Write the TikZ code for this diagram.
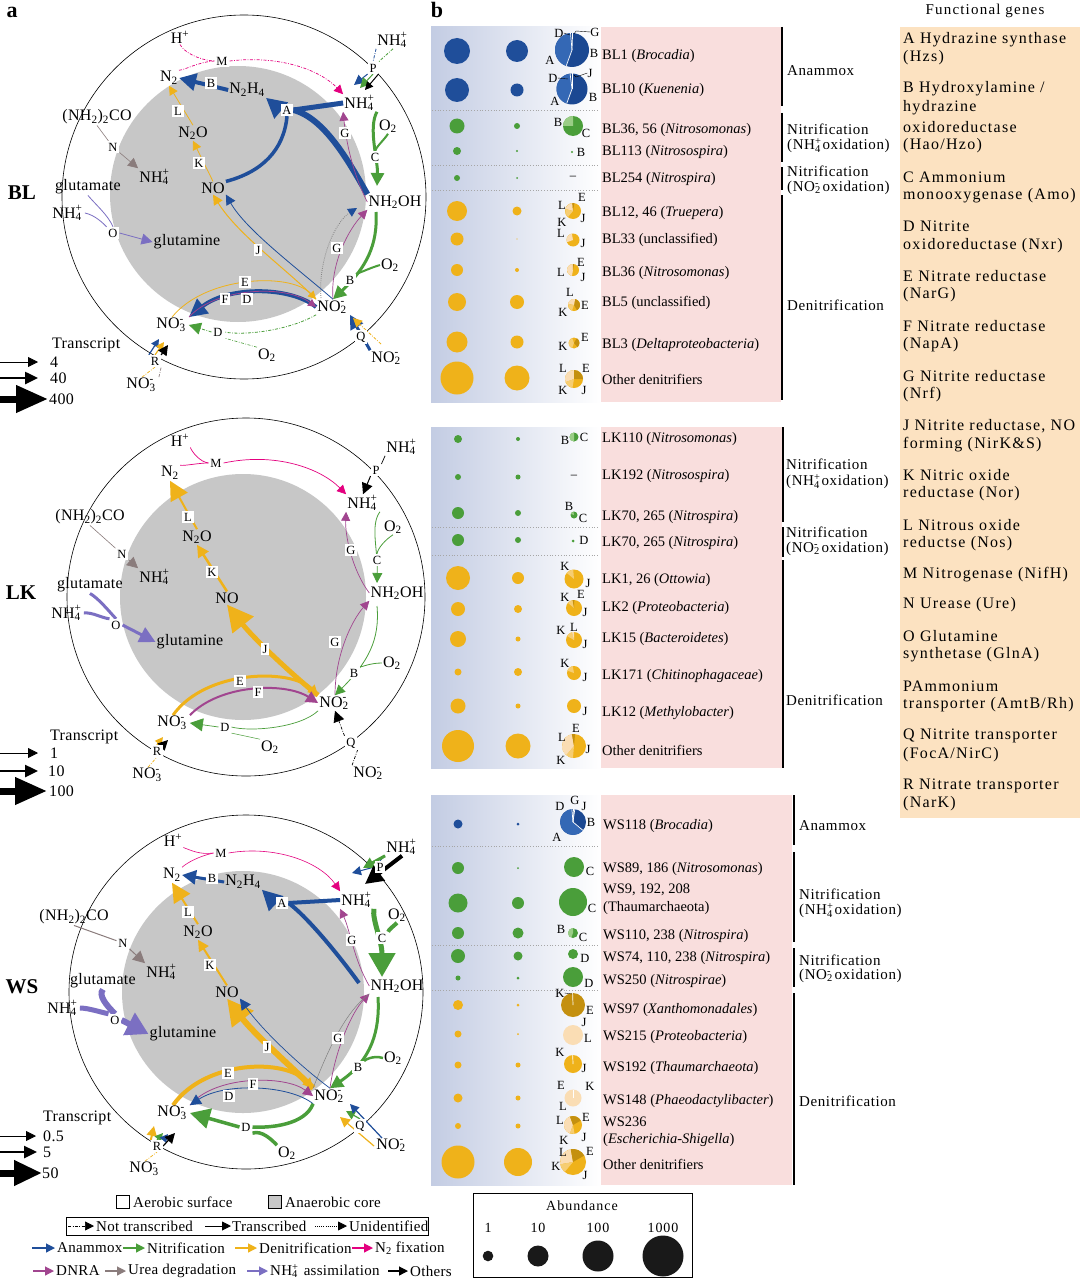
\documentclass[tikz,border=0pt]{standalone}
\usepackage{fontspec}
\setmainfont{Liberation Serif}
\newfontfamily\fontA[LetterSpace=2]{Liberation Serif}
\newfontfamily\fontC[LetterSpace=4]{Liberation Serif}
\newfontfamily\fontG[LetterSpace=8]{Liberation Serif}
\newfontfamily\fontAb[LetterSpace=7]{Liberation Serif}
\usetikzlibrary{arrows.meta}
\pgfdeclarelayer{bg}
\pgfsetlayers{bg,main}
\definecolor{cAna}{HTML}{1F4E9A}
\definecolor{cAnaD}{HTML}{1B4892}
\definecolor{cAnaL}{HTML}{3468B5}
\definecolor{cNit}{HTML}{4A9E3A}
\definecolor{cNitL}{HTML}{9ACD86}
\definecolor{cDen}{HTML}{EFB21A}
\definecolor{cE}{HTML}{C4900F}
\definecolor{cK}{HTML}{F6CD72}
\definecolor{cL}{HTML}{FADDB4}
\definecolor{cFix}{HTML}{E4007F}
\definecolor{cDnra}{HTML}{A1458F}
\definecolor{cUrea}{HTML}{8A7C7C}
\definecolor{cAsm}{HTML}{7B6FC2}
\definecolor{cCore}{HTML}{C7C7C7}
\definecolor{cPink}{HTML}{F9DEDD}
\definecolor{cOrange}{HTML}{FCE2C1}
\definecolor{cGrad}{HTML}{C3CCE3}
\newcommand\fsz[1]{\fontsize{#1}{#1}\selectfont}
\newcommand\ssp[2]{\makebox[0pt][l]{\textsuperscript{#2}}\textsubscript{#1}\kern0.12em}
\newcommand\ammo{NH\ssp{4}{+}}
\newcommand\nitri{NO\ssp{2}{-}}
\newcommand\nitra{NO\ssp{3}{-}}
\newcommand\oxy{O\textsubscript{2}}
\newcommand\pieseg[6]{\fill[#6] (#1,#2) -- ++({-(#4)}:#3) arc[start angle={-(#4)}, end angle={-(#5)}, radius=#3] -- cycle;}
\newcommand\pieline[4]{\draw[white, line width=0.7] (#1,#2) -- ++({-(#4)}:#3);}
\tikzset{
  chem/.style={font=\fontA\fsz{16}, inner sep=1pt},
  lb/.style={fill=white, inner sep=1.8pt, font=\fontA\fsz{12.5}},
  tx/.style={font=\fsz{14.5}, inner sep=0pt, anchor=west},
  cat/.style={font=\fontC\fsz{15}, inner sep=0pt, anchor=west},
  gene/.style={font=\fontG\fsz{16}, inner sep=0pt, anchor=west},
  pl/.style={font=\fsz{12.5}, inner sep=0pt},
  lg/.style={font=\fontA\fsz{15}, inner sep=0pt, anchor=west},
  big/.style={font=\bfseries\fsz{22}, inner sep=0pt},
  ana/.style={draw=cAna}, nit/.style={draw=cNit}, den/.style={draw=cDen},
  fix/.style={draw=cFix}, dnra/.style={draw=cDnra}, urea/.style={draw=cUrea},
  asm/.style={draw=cAsm}, oth/.style={draw=black},
  nt/.style={dash pattern=on 3pt off 1.5pt on 0.8pt off 1.5pt},
  ui/.style={dash pattern=on 0.8pt off 1.3pt},
  hd/.style={-{Triangle[length=#1pt,width=#1pt]}},
  hdw/.style 2 args={-{Triangle[length=#1pt,width=#2pt]}},
  sepl/.style={draw=gray!70, dotted, line width=0.8},
  brk/.style={draw=black, line width=1.4},
}
\begin{document}
\begin{tikzpicture}[x=1pt,y=-1pt]
\useasboundingbox (0,0) rectangle (1080,1279);
\begin{pgfonlayer}{bg}
\fill[white] (0,0) rectangle (1080,1279);
\end{pgfonlayer}

% ================= panel labels
\node[big] (labA) at (12,12) {a};
\node[big] (labB) at (437,10) {b};
\node[big,font=\bfseries\fsz{21}] (labBL) at (22,193) {BL};
\node[big,font=\bfseries\fsz{21}] (labLK) at (21,593) {LK};
\node[big,font=\bfseries\fsz{21}] (labWS) at (22,987) {WS};

% ================= BL nodes
\node[chem] (blHp) at (180,37) {H\textsuperscript{+}};
\node[lb] (blM) at (222,61) {M};
\node[chem] (blNH4o) at (393,40) {\ammo};
\node[lb] (blP) at (373,68) {P};
\node[chem] (blN2) at (169,78) {N\textsubscript{2}};
\node[lb] (blB) at (211,83) {B};
\node[chem] (blN2H4) at (247,90) {N\textsubscript{2}H\textsubscript{4}};
\node[chem] (blNH4i) at (360,103) {\ammo};
\node[lb] (blA) at (287,110) {A};
\node[chem] (blUrea) at (97,117) {(NH\textsubscript{2})\textsubscript{2}CO};
\node[lb] (blL) at (178,111) {L};
\node[chem] (blO2a) at (388,126) {\oxy};
\node[chem] (blN2O) at (193,133) {N\textsubscript{2}O};
\node[lb] (blG1) at (345,133) {G};
\node[lb] (blN) at (113,147) {N};
\node[lb] (blC) at (375,157) {C};
\node[lb] (blK) at (199,163) {K};
\node[chem] (blNH4u) at (155,177) {\ammo};
\node[chem] (blNO) at (213,188) {NO};
\node[chem] (blGlu) at (88,187) {glutamate};
\node[chem] (blNH2OH) at (395,202) {NH\textsubscript{2}OH};
\node[chem] (blNH4l) at (68,213) {\ammo};
\node[lb] (blO) at (113,233) {O};
\node[chem] (blGln) at (187,242) {glutamine};
\node[lb] (blJ) at (258,250) {J};
\node[lb] (blG2) at (337,248) {G};
\node[chem] (blO2b) at (390,265) {\oxy};
\node[lb] (blB2) at (350,280) {B};
\node[lb] (blE) at (245,282) {E};
\node[lb] (blF) at (225,299) {F};
\node[lb] (blD) at (247,299) {D};
\node[chem] (blNO2) at (333,307) {\nitri};
\node[chem] (blNO3) at (172,325) {\nitra};
\node[lb] (blD2) at (218,332) {D};
\node[lb] (blQ) at (361,337) {Q};
\node[chem] (blO2c) at (267,355) {\oxy};
\node[lb] (blR) at (155,361) {R};
\node[chem] (blNO2o) at (387,358) {\nitri};
\node[chem] (blNO3o) at (142,385) {\nitra};
\node[chem, anchor=west] (blTr) at (51,345) {Transcript};
\node[chem, anchor=west] (blV1) at (49,362) {4};
\node[chem, anchor=west] (blV2) at (49,378) {40};
\node[chem, anchor=west] (blV3) at (48,399) {400};
\coordinate (blCe) at (377,186);
\coordinate (blBs) at (376,212);
\coordinate (blUs) at (321,298);
\coordinate (blUe) at (357,208);
\coordinate (blP1) at (354,85);
\coordinate (blP2) at (360,88);
\coordinate (blP3) at (365,90);
\coordinate (blQys) at (381,344);
\coordinate (blQye) at (353,318);
\coordinate (blR1) at (159,339);
\coordinate (blR2) at (164,342);
\coordinate (blR3) at (168,345);
\coordinate (blT1s) at (0,362); \coordinate (blT1e) at (38,362);
\coordinate (blT2s) at (0,378); \coordinate (blT2e) at (38,378);
\coordinate (blT3s) at (0,399); \coordinate (blT3e) at (48,399);

\begin{pgfonlayer}{bg}
\filldraw[fill=white, draw=black, line width=0.6] (244,197) circle[radius=182];
\fill[cCore] (238,194) circle[radius=128];
% M
\draw[fix, nt, line width=0.7] (blHp.south) .. controls (184,52) and (198,60) .. (blM.west);
\draw[fix, nt, line width=0.7] (blN2.north east) .. controls (185,70) and (198,62) .. (blM.west);
\draw[fix, nt, line width=0.7, hd=9] (blM.east) .. controls (280,55) and (320,70) .. (blNH4i.north west);
% P
\draw[ana, nt, line width=0.8] (blNH4o.south west) -- (blP.north);
\draw[nit, nt, line width=0.8] (blNH4o.south) -- (blP.north east);
\draw[ana, line width=1, hd=10] (blP.south west) -- (blP1);
\draw[nit, line width=1, hd=10] (blP.south) -- (blP2);
\draw[oth, line width=1, hd=8] (blP.south east) -- (blP3);
% A
\draw[ana, line width=5] (blNH4i.west) -- (blA.east);
\draw[ana, line width=6] (blNH2OH.north west) .. controls (348,160) and (324,118) .. (blA.east);
\draw[ana, line width=3.5] (blNO.north east) .. controls (262,172) and (284,150) .. (blA.south);
\draw[ana, line width=5, hd=20] (blA.west) -- (blN2H4.south east);
% B
\draw[ana, line width=4, hd=17] (blN2H4.west) -- (blN2.east);
% L K
\draw[den, line width=0.8, hd=9] (blN2O.north) -- (blN2.south);
\draw[den, line width=0.8, hd=9] (blNO.north) -- (blN2O.south);
% J
\draw[den, line width=1, hd=10] (blNO2.north west) .. controls (290,272) and (238,235) .. (blNO.south);
\draw[ana, line width=0.8, hd=10] (blNO2.north) .. controls (297,268) and (246,230) .. (blNO.south east);
% G
\draw[dnra, line width=0.7, hd=9] (blNH2OH.west) .. controls (352,172) and (346,140) .. (blNH4i.south west);
\draw[dnra, line width=0.7, hd=9] (blNO2.north) .. controls (330,262) and (350,228) .. (blNH2OH.south west);
\draw[gray, ui, line width=0.8, -{Triangle[length=9pt,width=9pt,color=cAna]}] (blUs) .. controls (318,260) and (335,222) .. (blUe);
% C
\draw[nit, line width=3, hd=13] (blNH4i.south east) .. controls (368,128) and (378,160) .. (blCe);
\draw[nit, line width=2] (blO2a.south) .. controls (384,140) and (377,146) .. (blC.north);
% B nitrification
\draw[nit, line width=3, hd=13] (blBs) .. controls (378,245) and (366,268) .. (blNO2.north);
\draw[nit, line width=2] (blO2b.west) .. controls (370,268) and (362,272) .. (blB2.north east);
% D anammox
\draw[ana, line width=4, hd=18] (blNO2.west) .. controls (290,286) and (228,286) .. (blNO3.north east);
% E F
\draw[den, line width=0.8, hd=8] (blNO3.north) .. controls (205,276) and (290,272) .. (blNO2.north west);
\draw[dnra, line width=0.8, hd=8] (blNO3.north east) .. controls (215,288) and (285,284) .. (blNO2.west);
% D nitrification
\draw[nit, nt, line width=0.8] (blNO2.south west) .. controls (290,330) and (245,336) .. (blD2.east);
\draw[nit, nt, line width=0.8, hd=12] (blD2.west) -- (blNO3.east);
\draw[nit, nt, line width=0.6] (blO2c.north west) -- (blD2.south east);
% Q
\draw[ana, line width=3, hd=14] (blNO2o.north west) -- (blNO2.south east);
\draw[den, nt, line width=0.8, hd=9] (blQys) -- (blQye);
% R
\draw[den, nt, line width=0.7] (blNO3o.north) -- (blR.south);
\draw[urea, nt, line width=0.7] (blNO3o.north east) -- (blR.south east);
\draw[ana, line width=1.2, hd=8] (blR.north west) -- (blR1);
\draw[den, line width=1.2, hd=8] (blR.north) -- (blR2);
\draw[oth, line width=1.2, hd=10] (blR.north east) -- (blR3);
% N
\draw[urea, line width=0.6] (blUrea.south) -- (blN);
\draw[urea, line width=0.6, hd=10] (blN) -- (blNH4u.north west);
% O
\draw[asm, line width=0.8] (blGlu.south) .. controls (96,205) and (108,215) .. (blO.north);
\draw[asm, line width=0.8] (blNH4l.east) .. controls (95,215) and (104,224) .. (blO.north west);
\draw[asm, line width=0.8, hd=11] (blO.east) -- (blGln.west);
% transcript legend
\draw[oth, line width=0.8, hd=10] (blT1s) -- (blT1e);
\draw[oth, line width=2.5, hdw={13}{12}] (blT2s) -- (blT2e);
\draw[oth, line width=7, hdw={32}{26}] (blT3s) -- (blT3e);
\end{pgfonlayer}

% ================= LK nodes
\node[chem] (lkHp) at (180,440) {H\textsuperscript{+}};
\node[lb] (lkM) at (216,463) {M};
\node[chem] (lkNH4o) at (402,447) {\ammo};
\node[lb] (lkP) at (376,470) {P};
\node[chem] (lkN2) at (170,473) {N\textsubscript{2}};
\node[chem] (lkNH4i) at (363,503) {\ammo};
\node[chem] (lkUrea) at (90,517) {(NH\textsubscript{2})\textsubscript{2}CO};
\node[lb] (lkL) at (188,517) {L};
\node[chem] (lkO2a) at (393,527) {\oxy};
\node[chem] (lkN2O) at (197,537) {N\textsubscript{2}O};
\node[lb] (lkG1) at (351,550) {G};
\node[lb] (lkN) at (122,554) {N};
\node[lb] (lkC) at (377,560) {C};
\node[lb] (lkK) at (212,572) {K};
\node[chem] (lkNH4u) at (155,577) {\ammo};
\node[chem] (lkNO) at (227,598) {NO};
\node[chem] (lkGlu) at (90,585) {glutamate};
\node[chem] (lkNH2OH) at (397,593) {NH\textsubscript{2}OH};
\node[chem] (lkNH4l) at (67,613) {\ammo};
\node[lb] (lkO) at (116,625) {O};
\node[chem] (lkGln) at (190,642) {glutamine};
\node[lb] (lkJ) at (265,649) {J};
\node[lb] (lkG2) at (335,642) {G};
\node[chem] (lkO2b) at (392,663) {\oxy};
\node[lb] (lkB) at (354,673) {B};
\node[lb] (lkE) at (240,681) {E};
\node[lb] (lkF) at (258,692) {F};
\node[chem] (lkNO2) at (335,703) {\nitri};
\node[chem] (lkNO3) at (173,723) {\nitra};
\node[lb] (lkD) at (225,727) {D};
\node[lb] (lkQ) at (351,743) {Q};
\node[chem] (lkO2c) at (270,747) {\oxy};
\node[lb] (lkR) at (157,751) {R};
\node[chem] (lkNO2o) at (369,773) {\nitri};
\node[chem] (lkNO3o) at (148,775) {\nitra};
\node[chem, anchor=west] (lkTr) at (49,737) {Transcript};
\node[chem, anchor=west] (lkV1) at (49,753) {1};
\node[chem, anchor=west] (lkV2) at (47,771) {10};
\node[chem, anchor=west] (lkV3) at (48,791) {100};
\coordinate (lkCe) at (377,583);
\coordinate (lkBs) at (377,606);
\coordinate (lkR1) at (163,737);
\coordinate (lkR2) at (168,740);
\coordinate (lkT1s) at (0,753); \coordinate (lkT1e) at (38,753);
\coordinate (lkT2s) at (0,771); \coordinate (lkT2e) at (38,771);
\coordinate (lkT3s) at (0,791); \coordinate (lkT3e) at (47,791);

\begin{pgfonlayer}{bg}
\filldraw[fill=white, draw=black, line width=0.6] (246,597) circle[radius=179];
\fill[cCore] (243,597) circle[radius=123];
% M
\draw[fix, line width=0.7] (lkHp.south east) .. controls (192,452) and (200,462) .. (lkM.west);
\draw[fix, line width=0.7] (lkN2.north east) .. controls (185,466) and (198,463) .. (lkM.west);
\draw[fix, line width=0.7, hd=9] (lkM.east) .. controls (275,452) and (320,468) .. (lkNH4i.north west);
% P
\draw[oth, line width=0.7] (lkNH4o.south west) -- (lkP.north east);
\draw[oth, line width=1, hd=11] (lkP.south west) -- (lkNH4i.north);
% L K J
\draw[den, line width=2, hd=19] (lkN2O.north) -- (lkN2.south);
\draw[den, line width=2.5, hd=12] (lkNO.north) -- (lkN2O.south);
\draw[den, line width=5, hd=26] (lkNO2.north west) .. controls (298,680) and (255,640) .. (lkNO.south);
% G
\draw[dnra, line width=0.7, hd=9] (lkNH2OH.west) .. controls (352,570) and (345,535) .. (lkNH4i.south west);
\draw[dnra, line width=0.7, hd=9] (lkNO2.north) .. controls (335,655) and (352,620) .. (lkNH2OH.south west);
% C
\draw[nit, line width=0.8, hd=10] (lkNH4i.south east) .. controls (370,525) and (378,550) .. (lkCe);
\draw[nit, line width=0.8] (lkO2a.south) .. controls (385,540) and (378,548) .. (lkC.north);
% B
\draw[nit, line width=0.8, hd=10] (lkBs) .. controls (380,640) and (368,662) .. (lkNO2.north);
\draw[nit, line width=0.8] (lkO2b.west) .. controls (370,663) and (362,667) .. (lkB.north east);
% E F
\draw[den, line width=3, hd=10] (lkNO3.north) .. controls (205,670) and (290,668) .. (lkNO2.north west);
\draw[dnra, line width=2, hd=12] (lkNO3.north east) .. controls (220,684) and (285,682) .. (lkNO2.west);
% D
\draw[nit, line width=0.7] (lkNO2.south west) .. controls (300,728) and (250,732) .. (lkD.east);
\draw[nit, line width=0.7, hd=13] (lkD.west) -- (lkNO3.east);
\draw[nit, line width=0.5] (lkO2c.north west) -- (lkD.south east);
% Q
\draw[oth, nt, line width=0.7] (lkNO2o.north west) -- (lkQ.south east);
\draw[oth, nt, line width=0.7, hd=11] (lkQ.north west) -- (lkNO2.south);
% R
\draw[den, nt, line width=0.7] (lkNO3o.north) -- (lkR.south);
\draw[den, line width=1.5, hd=8] (lkR.north) -- (lkR1);
\draw[oth, line width=1, hd=10] (lkR.north east) -- (lkR2);
% N
\draw[urea, line width=0.6] (lkUrea.south) -- (lkN);
\draw[urea, line width=0.6, hd=11] (lkN) -- (lkNH4u.north west);
% O
\draw[asm, line width=3] (lkGlu.south) .. controls (98,598) and (108,610) .. (lkO.north);
\draw[asm, line width=3] (lkNH4l.east) .. controls (92,612) and (102,618) .. (lkO.north west);
\draw[asm, line width=3, hd=16] (lkO.east) -- (lkGln.west);
% transcript legend
\draw[oth, line width=0.8, hd=10] (lkT1s) -- (lkT1e);
\draw[oth, line width=2.5, hdw={13}{12}] (lkT2s) -- (lkT2e);
\draw[oth, line width=7, hdw={32}{26}] (lkT3s) -- (lkT3e);
\end{pgfonlayer}

% ================= WS nodes
\node[chem] (wsHp) at (173,840) {H\textsuperscript{+}};
\node[lb] (wsM) at (221,853) {M};
\node[chem] (wsNH4o) at (402,847) {\ammo};
\node[lb] (wsP) at (380,867) {P};
\node[chem] (wsN2) at (172,875) {N\textsubscript{2}};
\node[lb] (wsB) at (212,878) {B};
\node[chem] (wsN2H4) at (243,882) {N\textsubscript{2}H\textsubscript{4}};
\node[chem] (wsNH4i) at (357,900) {\ammo};
\node[lb] (wsA) at (282,903) {A};
\node[chem] (wsUrea) at (74,917) {(NH\textsubscript{2})\textsubscript{2}CO};
\node[lb] (wsL) at (188,912) {L};
\node[chem] (wsO2a) at (397,915) {\oxy};
\node[chem] (wsN2O) at (198,932) {N\textsubscript{2}O};
\node[lb] (wsG1) at (352,940) {G};
\node[lb] (wsN) at (123,943) {N};
\node[lb] (wsC) at (382,938) {C};
\node[lb] (wsK) at (210,965) {K};
\node[chem] (wsNH4u) at (162,972) {\ammo};
\node[chem] (wsNO) at (227,992) {NO};
\node[chem] (wsGlu) at (103,981) {glutamate};
\node[chem] (wsNH2OH) at (397,986) {NH\textsubscript{2}OH};
\node[chem] (wsNH4l) at (63,1008) {\ammo};
\node[lb] (wsO) at (115,1020) {O};
\node[chem] (wsGln) at (183,1034) {glutamine};
\node[lb] (wsJ) at (267,1047) {J};
\node[lb] (wsG2) at (338,1038) {G};
\node[chem] (wsO2b) at (393,1058) {\oxy};
\node[lb] (wsB2) at (358,1067) {B};
\node[lb] (wsE) at (228,1073) {E};
\node[lb] (wsF) at (253,1084) {F};
\node[lb] (wsD) at (229,1096) {D};
\node[chem] (wsNO2) at (330,1096) {\nitri};
\node[chem] (wsNO3) at (173,1113) {\nitra};
\node[lb] (wsD2) at (246,1127) {D};
\node[lb] (wsQ) at (360,1126) {Q};
\node[chem] (wsO2c) at (287,1153) {\oxy};
\node[lb] (wsR) at (157,1146) {R};
\node[chem] (wsNO2o) at (392,1145) {\nitri};
\node[chem] (wsNO3o) at (145,1169) {\nitra};
\node[chem, anchor=west] (wsTr) at (42,1118) {Transcript};
\node[chem, anchor=west] (wsV1) at (42,1136) {0.5};
\node[chem, anchor=west] (wsV2) at (42,1152) {5};
\node[chem, anchor=west] (wsV3) at (41,1173) {50};
\coordinate (wsP1) at (352,873);
\coordinate (wsP2) at (363,868);
\coordinate (wsP3) at (365,884);
\coordinate (wsAs) at (359,983);
\coordinate (wsCe) at (382,977);
\coordinate (wsBs) at (378,997);
\coordinate (wsQ1) at (340,1117);
\coordinate (wsQ2) at (346,1111);
\coordinate (wsQ3) at (350,1104);
\coordinate (wsQ1s) at (374,1146);
\coordinate (wsQ3s) at (382,1138);
\coordinate (wsR1) at (154,1126);
\coordinate (wsR2) at (163,1133);
\coordinate (wsR3) at (168,1134);
\coordinate (wsR4) at (175,1133);
\coordinate (wsT1s) at (0,1136); \coordinate (wsT1e) at (36,1136);
\coordinate (wsT2s) at (0,1152); \coordinate (wsT2e) at (37,1152);
\coordinate (wsT3s) at (0,1173); \coordinate (wsT3e) at (42,1173);

\begin{pgfonlayer}{bg}
\filldraw[fill=white, draw=black, line width=0.6] (246,992) circle[radius=177];
\fill[cCore] (243,992) circle[radius=121];
% M
\draw[fix, line width=0.6] (wsHp.south east) .. controls (190,850) and (200,855) .. (wsM.west);
\draw[fix, line width=0.6] (wsN2.north east) .. controls (188,862) and (200,856) .. (wsM.west);
\draw[fix, line width=0.6, hd=9] (wsM.east) .. controls (275,845) and (320,862) .. (wsNH4i.north west);
% P
\draw[ana, line width=0.8] (wsNH4o.south west) -- (wsP.north);
\draw[ana, line width=1, hd=9] (wsP.west) -- (wsP1);
\draw[nit, line width=3, hd=11] (wsNH4o.south west) -- (wsP2);
\draw[oth, line width=4, hd=18] (wsNH4o.south) -- (wsP3);
% B A
\draw[ana, line width=3, hd=14] (wsN2H4.west) -- (wsN2.east);
\draw[ana, line width=4] (wsNH4i.west) -- (wsA.east);
\draw[ana, line width=4] (wsAs) .. controls (335,950) and (305,915) .. (wsA.east);
\draw[ana, line width=4, hd=20] (wsA.west) -- (wsN2H4.south east);
% L K J
\draw[den, line width=2, hd=19] (wsN2O.north) -- (wsN2.south);
\draw[den, line width=2, hd=11] (wsNO.north) -- (wsN2O.south);
\draw[den, line width=6, hd=26] (wsNO2.north west) .. controls (295,1070) and (255,1035) .. (wsNO.south);
\draw[ana, line width=0.7, hd=11] (wsNO2.north) .. controls (300,1066) and (262,1030) .. (wsNO.south east);
% G
\draw[dnra, line width=0.7, hd=9] (wsNH2OH.west) .. controls (354,960) and (350,930) .. (wsNH4i.south west);
\draw[dnra, line width=0.7, hd=9] (wsNO2.north) .. controls (335,1050) and (352,1012) .. (wsNH2OH.south west);
\draw[gray, line width=0.5] (wsNO2.north west) .. controls (328,1050) and (345,1012) .. (wsNH2OH.south west);
% C
\draw[nit, line width=5, hdw={24}{26}] (wsNH4i.south east) .. controls (372,920) and (382,940) .. (wsCe);
\draw[nit, line width=4] (wsO2a.south) .. controls (395,925) and (388,930) .. (wsC.north east);
% B
\draw[nit, line width=3, hd=13] (wsBs) .. controls (380,1030) and (372,1060) .. (wsNO2.north);
\draw[nit, line width=2.5] (wsO2b.west) .. controls (373,1055) and (365,1060) .. (wsB2.north east);
% E F D
\draw[den, line width=4, hd=10] (wsNO3.north) .. controls (205,1060) and (285,1058) .. (wsNO2.north west);
\draw[dnra, line width=0.8, hd=10] (wsNO3.north east) .. controls (215,1075) and (285,1075) .. (wsNO2.west);
\draw[ana, line width=0.8, hd=11] (wsNO2.south west) .. controls (290,1085) and (225,1082) .. (wsNO3.north east);
% D nitrification
\draw[nit, line width=3.5] (wsNO2.south west) .. controls (305,1125) and (270,1128) .. (wsD2.east);
\draw[nit, line width=3.5, hd=20] (wsD2.west) -- (wsNO3.east);
\draw[nit, line width=3.5] (wsO2c.north west) .. controls (272,1140) and (262,1130) .. (wsD2.south east);
% Q
\draw[den, line width=1.2, hd=10] (wsQ1s) -- (wsQ1);
\draw[nit, line width=1.2, hd=9] (wsQ.north) -- (wsQ2);
\draw[ana, line width=1.2, hd=9] (wsQ3s) -- (wsQ3);
% R
\draw[den, nt, line width=0.7] (wsNO3o.north) -- (wsR.south);
\draw[den, line width=2, hd=10] (wsR.north west) -- (wsR1);
\draw[nit, line width=1.2, hd=8] (wsR.north) -- (wsR2);
\draw[ana, line width=1.2, hd=8] (wsR.north east) -- (wsR3);
\draw[oth, line width=1.2, hd=10] (wsR.east) -- (wsR4);
% N
\draw[urea, line width=1] (wsUrea.south) -- (wsN);
\draw[urea, line width=1, hd=12] (wsN) -- (wsNH4u.north west);
% O
\draw[asm, line width=6] (wsGlu.south) .. controls (98,995) and (106,1005) .. (wsO.north);
\draw[asm, line width=5] (wsNH4l.east) .. controls (88,1008) and (100,1012) .. (wsO.north west);
\draw[asm, line width=6, hdw={22}{24}] (wsO.east) -- (wsGln.west);
% transcript legend
\draw[oth, line width=0.8, hd=10] (wsT1s) -- (wsT1e);
\draw[oth, line width=2.5, hdw={13}{12}] (wsT2s) -- (wsT2e);
\draw[oth, line width=7, hdw={28}{24}] (wsT3s) -- (wsT3e);
\end{pgfonlayer}

% ================= panel b backgrounds
\shade[left color=cGrad, right color=white] (431,27) rectangle (601,402);
\fill[cPink] (601,27) rectangle (781,402);
\shade[left color=cGrad, right color=white] (431,427) rectangle (601,768);
\fill[cPink] (601,427) rectangle (782,768);
\shade[left color=cGrad, right color=white] (431,795) rectangle (601,1185);
\fill[cPink] (601,795) rectangle (792,1185);
\fill[cOrange] (900,27) rectangle (1080,818);

% separators
\draw[sepl] (432,110) -- (598,110);
\draw[sepl] (432,165) -- (598,165);
\draw[sepl] (432,190) -- (598,190);
\draw[sepl] (432,527) -- (598,527);
\draw[sepl] (432,555) -- (598,555);
\draw[sepl] (432,846) -- (598,846);
\draw[sepl] (432,945) -- (598,945);
\draw[sepl] (432,990) -- (598,990);

% bubbles
\foreach \cc/\yy/\ra/\rb in {cAna/51/13/11, cAna/90/12/6.5, cNit/126/7.5/3, cNit/151/4/1.2, cNit/178/3/1, cDen/211/10/4.5, cDen/239/6.5/0.6, cDen/270/6/2, cDen/302/9/7, cDen/342/10.5/6.5, cDen/378/16.5/12.5}
  {\fill[\cc] (457,\yy) circle[radius=\ra]; \fill[\cc] (517,\yy) circle[radius=\rb];}
\foreach \cc/\yy/\ra/\rb in {cNit/439/4/2, cNit/477/3/2.5, cNit/513/6/3, cNit/540/6/3, cDen/578/12/6, cDen/609/7/4, cDen/639/8/2.5, cDen/672/3.5/4, cDen/706/7.5/2.5, cDen/746/16/12.5}
  {\fill[\cc] (458,\yy) circle[radius=\ra]; \fill[\cc] (518,\yy) circle[radius=\rb];}
\foreach \cc/\yy/\ra/\rb in {cAna/824/4.5/1.5, cNit/868/6/1, cNit/903/9.5/6, cNit/933/6/5.5, cNit/956/7/4.5, cNit/978/2.5/1.5, cDen/1005/5/1.5, cDen/1034/3.5/1, cDen/1065/3.5/2.5, cDen/1098/4.5/2.5, cDen/1126/3/2.5, cDen/1162/16.5/14}
  {\fill[\cc] (458,\yy) circle[radius=\ra]; \fill[\cc] (518,\yy) circle[radius=\rb];}

% pies BL
\fill[cAnaD] (572,50) circle[radius=17]; \pieseg{572}{50}{17}{95}{250}{cAnaL};
\pieline{572}{50}{17}{95} \pieline{572}{50}{17}{250} \pieline{572}{50}{17}{88}
\fill[cAnaD] (572,89) circle[radius=15.5]; \pieseg{572}{89}{15.5}{97}{250}{cAnaL};
\pieline{572}{89}{15.5}{97} \pieline{572}{89}{15.5}{250} \pieline{572}{89}{15.5}{90}
\fill[cNit] (573,126) circle[radius=10]; \pieseg{573}{126}{10}{90}{180}{cNitL};
\fill[cNit] (572,152) circle[radius=1.2];
\fill[cDen] (573,211) circle[radius=8]; \pieseg{573}{211}{8}{95}{165}{cL}; \pieseg{573}{211}{8}{165}{230}{cK}; \pieseg{573}{211}{8}{80}{95}{cE};
\fill[cDen] (573,240) circle[radius=6.5]; \pieseg{573}{240}{6.5}{100}{200}{cL};
\fill[cDen] (573,270) circle[radius=6]; \pieseg{573}{270}{6}{92}{260}{cL}; \pieseg{573}{270}{6}{80}{92}{cE};
\fill[cDen] (574,305) circle[radius=6]; \pieseg{574}{305}{6}{-60}{80}{cE}; \pieseg{574}{305}{6}{80}{170}{cL}; \pieseg{574}{305}{6}{170}{250}{cK};
\fill[cDen] (574,343) circle[radius=5.5]; \pieseg{574}{343}{5.5}{110}{250}{cK}; \pieseg{574}{343}{5.5}{-50}{60}{cE};
\fill[cDen] (574,379) circle[radius=9]; \pieseg{574}{379}{9}{90}{200}{cL}; \pieseg{574}{379}{9}{200}{260}{cK}; \pieseg{574}{379}{9}{0}{90}{cE};
% pies LK
\fill[cNit] (574,437) circle[radius=4.5]; \pieseg{574}{437}{4.5}{90}{270}{cNitL};
\fill[cNit] (574,515) circle[radius=3.5]; \pieseg{574}{515}{3.5}{100}{160}{cNitL};
\fill[cNit] (573,541) circle[radius=1.5];
\fill[cDen] (574,579) circle[radius=9.5]; \pieseg{574}{579}{9.5}{95}{140}{cK};
\fill[cDen] (574,608) circle[radius=8]; \pieseg{574}{608}{8}{100}{140}{cK}; \pieseg{574}{608}{8}{88}{100}{cE};
\fill[cDen] (574,640) circle[radius=8]; \pieseg{574}{640}{8}{105}{150}{cK}; \pieseg{574}{640}{8}{90}{105}{cL};
\fill[cDen] (574,673) circle[radius=7]; \pieseg{574}{673}{7}{100}{160}{cK};
\fill[cDen] (574,706) circle[radius=7];
\fill[cDen] (574,746) circle[radius=12]; \pieseg{574}{746}{12}{100}{230}{cL}; \pieseg{574}{746}{12}{230}{265}{cK}; \pieseg{574}{746}{12}{85}{100}{cE};
% pies WS
\fill[cAnaD] (573,822) circle[radius=13]; \pieseg{573}{822}{13}{95}{320}{cAnaL};
\pieline{573}{822}{13}{95} \pieline{573}{822}{13}{88} \pieline{573}{822}{13}{82} \pieline{573}{822}{13}{320}
\fill[cNit] (574,867) circle[radius=10];
\fill[cNit] (573,902) circle[radius=14];
\fill[cNit] (573,933) circle[radius=5]; \pieseg{573}{933}{5}{90}{250}{cNitL};
\fill[cNit] (573,954) circle[radius=5];
\fill[cNit] (573,977) circle[radius=10];
\fill[cE] (573,1005) circle[radius=12]; \pieline{573}{1005}{12}{92}
\fill[cL] (573,1035) circle[radius=10];
\fill[cDen] (573,1064) circle[radius=9]; \pieline{573}{1064}{9}{92}
\fill[cL] (573,1098) circle[radius=8.5]; \pieline{573}{1098}{8.5}{90}
\fill[cDen] (573,1125) circle[radius=9]; \pieseg{573}{1125}{9}{110}{250}{cL}; \pieseg{573}{1125}{9}{250}{280}{cK}; \pieseg{573}{1125}{9}{30}{110}{cE};
\fill[cDen] (573,1162) circle[radius=13]; \pieseg{573}{1162}{13}{100}{190}{cL}; \pieseg{573}{1162}{13}{190}{230}{cK}; \pieseg{573}{1162}{13}{30}{100}{cE};

% pie labels BL
\node[pl] (qBL1D) at (559,33) {D}; \node[pl] (qBL1G) at (595,32) {G};
\node[pl] (qBL1A) at (550,60) {A}; \node[pl] (qBL1B) at (594,53) {B};
\draw[line width=0.4] (qBL1D.east) -- (570,35);
\draw[line width=0.4] (qBL1G.west) -- (576,31) -- (574,34);
\node[pl] (qBL10D) at (553,78) {D}; \node[pl] (qBL10J) at (590,73) {J};
\node[pl] (qBL10A) at (555,101) {A}; \node[pl] (qBL10B) at (593,97) {B};
\draw[line width=0.4] (qBL10D.east) -- (568,79);
\draw[line width=0.4] (qBL10J.west) -- (576,77) -- (574,75);
\node[pl] (qBL36B) at (558,122) {B}; \node[pl] (qBL36C) at (586,133) {C};
\node[pl] (qBL113B) at (581,152) {B};
\node[pl] (qBL254) at (573,178) {\textendash};
\node[pl] (qBL12L) at (562,205) {L}; \node[pl] (qBL12E) at (582,197) {E}; \node[pl] (qBL12K) at (562,222) {K}; \node[pl] (qBL12J) at (583,218) {J};
\node[pl] (qBL33L) at (561,233) {L}; \node[pl] (qBL33J) at (583,243) {J};
\node[pl] (qBL36L) at (561,272) {L}; \node[pl] (qBL36E) at (581,262) {E}; \node[pl] (qBL36J) at (583,277) {J};
\node[pl] (qBL5L) at (570,292) {L}; \node[pl] (qBL5K) at (563,312) {K}; \node[pl] (qBL5E) at (585,305) {E};
\node[pl] (qBL3K) at (563,346) {K}; \node[pl] (qBL3E) at (585,337) {E};
\node[pl] (qBLoL) at (563,368) {L}; \node[pl] (qBLoE) at (586,368) {E}; \node[pl] (qBLoK) at (563,390) {K}; \node[pl] (qBLoJ) at (584,390) {J};
% pie labels LK
\node[pl] (qLK110B) at (565,440) {B}; \node[pl] (qLK110C) at (584,437) {C};
\node[pl] (qLK192) at (574,477) {\textendash};
\node[pl] (qLK70B) at (569,506) {B}; \node[pl] (qLK70C) at (583,518) {C};
\node[pl] (qLK70D) at (584,540) {D};
\node[pl] (qLK1K) at (565,566) {K}; \node[pl] (qLK1J) at (588,583) {J};
\node[pl] (qLK2K) at (565,597) {K}; \node[pl] (qLK2E) at (581,594) {E}; \node[pl] (qLK2J) at (585,612) {J};
\node[pl] (qLK15K) at (561,630) {K}; \node[pl] (qLK15L) at (574,627) {L}; \node[pl] (qLK15J) at (585,644) {J};
\node[pl] (qLK171K) at (565,663) {K}; \node[pl] (qLK171J) at (585,677) {J};
\node[pl] (qLK12J) at (585,711) {J};
\node[pl] (qLKoL) at (562,737) {L}; \node[pl] (qLKoE) at (576,728) {E}; \node[pl] (qLKoJ) at (588,749) {J}; \node[pl] (qLKoK) at (561,760) {K};
% pie labels WS
\node[pl] (qWS1D) at (560,806) {D}; \node[pl] (qWS1G) at (575,800) {G}; \node[pl] (qWS1J) at (584,806) {J};
\node[pl] (qWS1B) at (591,822) {B}; \node[pl] (qWS1A) at (557,837) {A};
\node[pl] (qWS89C) at (590,871) {C};
\node[pl] (qWS9C) at (592,908) {C};
\node[pl] (qWS110B) at (561,929) {B}; \node[pl] (qWS110C) at (583,937) {C};
\node[pl] (qWS74D) at (585,958) {D};
\node[pl] (qWS250D) at (589,983) {D};
\node[pl] (qWS97K) at (560,993) {K}; \node[pl] (qWS97E) at (590,1010) {E}; \node[pl] (qWS97J) at (584,1022) {J};
\draw[line width=0.4] (qWS97K.east) -- (572,994);
\node[pl] (qWS215L) at (588,1038) {L};
\node[pl] (qWS192K) at (560,1052) {K}; \node[pl] (qWS192J) at (584,1068) {J};
\node[pl] (qWS148E) at (561,1085) {E}; \node[pl] (qWS148K) at (590,1086) {K}; \node[pl] (qWS148L) at (563,1106) {L};
\node[pl] (qWS236L) at (560,1120) {L}; \node[pl] (qWS236E) at (586,1117) {E}; \node[pl] (qWS236J) at (584,1137) {J}; \node[pl] (qWS236K) at (564,1140) {K};
\node[pl] (qWSoL) at (563,1152) {L}; \node[pl] (qWSoE) at (590,1151) {E}; \node[pl] (qWSoK) at (556,1166) {K}; \node[pl] (qWSoJ) at (585,1175) {J};

% taxon labels
\node[tx] (tBL1) at (602,56) {BL1 (\textit{Brocadia})};
\node[tx] (tBL10) at (602,90) {BL10 (\textit{Kuenenia})};
\node[tx] (tBL36a) at (602,130) {BL36, 56 (\textit{Nitrosomonas})};
\node[tx] (tBL113) at (602,152) {BL113 (\textit{Nitrosospira})};
\node[tx] (tBL254) at (602,179) {BL254 (\textit{Nitrospira})};
\node[tx] (tBL12) at (602,213) {BL12, 46 (\textit{Truepera})};
\node[tx] (tBL33) at (602,240) {BL33 (unclassified)};
\node[tx] (tBL36b) at (602,273) {BL36 (\textit{Nitrosomonas})};
\node[tx] (tBL5) at (602,303) {BL5 (unclassified)};
\node[tx] (tBL3) at (602,345) {BL3 (\textit{Deltaproteobacteria})};
\node[tx] (tBLo) at (602,379) {Other denitrifiers};
\node[tx] (tLK110) at (602,439) {LK110 (\textit{Nitrosomonas})};
\node[tx] (tLK192) at (602,476) {LK192 (\textit{Nitrosospira})};
\node[tx] (tLK70a) at (602,517) {LK70, 265 (\textit{Nitrospira})};
\node[tx] (tLK70b) at (602,543) {LK70, 265 (\textit{Nitrospira})};
\node[tx] (tLK1) at (602,580) {LK1, 26 (\textit{Ottowia})};
\node[tx] (tLK2) at (602,608) {LK2 (\textit{Proteobacteria})};
\node[tx] (tLK15) at (602,639) {LK15 (\textit{Bacteroidetes})};
\node[tx] (tLK171) at (602,676) {LK171 (\textit{Chitinophagaceae})};
\node[tx] (tLK12) at (602,713) {LK12 (\textit{Methylobacter})};
\node[tx] (tLKo) at (602,750) {Other denitrifiers};
\node[tx] (tWS118) at (603,826) {WS118 (\textit{Brocadia})};
\node[tx] (tWS89) at (603,869) {WS89, 186 (\textit{Nitrosomonas})};
\node[tx] (tWS9a) at (603,890) {WS9, 192, 208};
\node[tx] (tWS9b) at (603,908) {(Thaumarchaeota)};
\node[tx] (tWS110) at (603,936) {WS110, 238 (\textit{Nitrospira})};
\node[tx] (tWS74) at (603,958) {WS74, 110, 238 (\textit{Nitrospira})};
\node[tx] (tWS250) at (603,981) {WS250 (\textit{Nitrospirae})};
\node[tx] (tWS97) at (603,1010) {WS97 (\textit{Xanthomonadales})};
\node[tx] (tWS215) at (603,1037) {WS215 (\textit{Proteobacteria})};
\node[tx] (tWS192) at (603,1068) {WS192 (\textit{Thaumarchaeota})};
\node[tx] (tWS148) at (603,1101) {WS148 (\textit{Phaeodactylibacter})};
\node[tx] (tWS236a) at (603,1122) {WS236};
\node[tx] (tWS236b) at (603,1140) {(\textit{Escherichia-Shigella})};
\node[tx] (tWSo) at (603,1164) {Other denitrifiers};

% brackets and categories
\draw[brk] (782,27) -- (782,106);
\draw[brk] (782,113) -- (782,162);
\draw[brk] (782,167) -- (782,190);
\draw[brk] (782,195) -- (782,400);
\node[cat] (cBLan) at (787,71) {Anammox};
\node[cat] (cBLn1) at (787,129) {Nitrification};
\node[cat] (cBLn1b) at (787,146) {(NH\ssp{4}{+} oxidation)};
\node[cat] (cBLn2) at (787,171) {Nitrification};
\node[cat] (cBLn2b) at (787,188) {(NO\ssp{2}{-} oxidation)};
\node[cat] (cBLde) at (787,305) {Denitrification};
\draw[brk] (783,427) -- (783,522);
\draw[brk] (783,527) -- (783,557);
\draw[brk] (783,560) -- (783,768);
\node[cat] (cLKn1) at (786,464) {Nitrification};
\node[cat] (cLKn1b) at (786,482) {(NH\ssp{4}{+}oxidation)};
\node[cat] (cLKn2) at (786,532) {Nitrification};
\node[cat] (cLKn2b) at (786,549) {(NO\ssp{2}{-} oxidation)};
\node[cat] (cLKde) at (786,700) {Denitrification};
\draw[brk] (794,795) -- (794,845);
\draw[brk] (794,852) -- (794,942);
\draw[brk] (794,948) -- (794,987);
\draw[brk] (794,993) -- (794,1185);
\node[cat] (cWSan) at (799,826) {Anammox};
\node[cat] (cWSn1) at (799,894) {Nitrification};
\node[cat] (cWSn1b) at (799,911) {(NH\ssp{4}{+} oxidation)};
\node[cat] (cWSn2) at (799,960) {Nitrification};
\node[cat] (cWSn2b) at (799,976) {(NO\ssp{2}{-} oxidation)};
\node[cat] (cWSde) at (799,1101) {Denitrification};

% functional genes
\node[font=\fontG\fsz{15}, inner sep=0pt] (fgT) at (985,11) {Functional genes};
\node[gene] (g01) at (903,40) {A Hydrazine synthase};
\node[gene] (g02) at (903,58) {(Hzs)};
\node[gene] (g03) at (903,89) {B Hydroxylamine /};
\node[gene] (g04) at (903,108) {hydrazine};
\node[gene] (g05) at (903,127) {oxidoreductase};
\node[gene] (g06) at (903,146) {(Hao/Hzo)};
\node[gene] (g07) at (903,177) {C Ammonium};
\node[gene] (g08) at (903,196) {monooxygenase (Amo)};
\node[gene] (g09) at (903,226) {D Nitrite};
\node[gene] (g10) at (903,246) {oxidoreductase (Nxr)};
\node[gene] (g11) at (903,276) {E Nitrate reductase};
\node[gene] (g12) at (903,295) {(NarG)};
\node[gene] (g13) at (903,326) {F Nitrate reductase};
\node[gene] (g14) at (903,345) {(NapA)};
\node[gene] (g15) at (903,376) {G Nitrite reductase};
\node[gene] (g16) at (903,395) {(Nrf)};
\node[gene] (g17) at (903,426) {J Nitrite reductase, NO};
\node[gene] (g18) at (903,445) {forming (NirK\&S)};
\node[gene] (g19) at (903,475) {K Nitric oxide};
\node[gene] (g20) at (903,494) {reductase (Nor)};
\node[gene] (g21) at (903,525) {L Nitrous oxide};
\node[gene] (g22) at (903,544) {reductse (Nos)};
\node[gene] (g23) at (903,575) {M Nitrogenase (NifH)};
\node[gene] (g24) at (903,605) {N Urease (Ure)};
\node[gene] (g25) at (903,636) {O Glutamine};
\node[gene] (g26) at (903,655) {synthetase (GlnA)};
\node[gene] (g27) at (903,686) {PAmmonium};
\node[gene] (g28) at (903,705) {transporter (AmtB/Rh)};
\node[gene] (g29) at (903,736) {Q Nitrite transporter};
\node[gene] (g30) at (903,755) {(FocA/NirC)};
\node[gene] (g31) at (903,786) {R Nitrate transporter};
\node[gene] (g32) at (903,804) {(NarK)};

% ================= bottom legend
\node[draw=black, line width=0.6, minimum size=13pt, inner sep=0pt] (lgW) at (123,1202) {};
\node[lg] (lgWt) at (133,1202) {Aerobic surface};
\node[draw=black, fill=cCore, line width=0.6, minimum size=13pt, inner sep=0pt] (lgG) at (275,1202) {};
\node[lg] (lgGt) at (285,1202) {Anaerobic core};
\node[draw=black, line width=0.9, minimum width=362pt, minimum height=18pt, inner sep=0pt] (lgBox) at (247,1226) {};
\coordinate (lgN1) at (68,1226); \coordinate (lgN2) at (94,1226);
\coordinate (lgT1) at (205,1226); \coordinate (lgT2) at (231,1226);
\coordinate (lgU1) at (315,1226); \coordinate (lgU2) at (347,1226);
\draw[oth, nt, line width=0.7, hd=9] (lgN1) -- (lgN2);
\draw[oth, line width=0.9, hd=9] (lgT1) -- (lgT2);
\draw[oth, ui, line width=0.8, hd=9] (lgU1) -- (lgU2);
\node[lg] (lgNt) at (96,1226) {Not transcribed};
\node[lg] (lgTt) at (232,1226) {Transcribed};
\node[lg] (lgUt) at (349,1226) {Unidentified};
\coordinate (lgA1) at (32,1248); \coordinate (lgA2) at (55,1248);
\coordinate (lgB1) at (123,1248); \coordinate (lgB2) at (145,1248);
\coordinate (lgC1) at (235,1248); \coordinate (lgC2) at (257,1248);
\coordinate (lgD1) at (352,1248); \coordinate (lgD2) at (373,1248);
\draw[ana, line width=1.2, hd=9] (lgA1) -- (lgA2);
\draw[nit, line width=1.2, hd=9] (lgB1) -- (lgB2);
\draw[den, line width=1.2, hd=9] (lgC1) -- (lgC2);
\draw[fix, line width=1.2, hd=9] (lgD1) -- (lgD2);
\node[lg] (lgAt) at (57,1248) {Anammox};
\node[lg] (lgBt) at (147,1248) {Nitrification};
\node[lg] (lgCt) at (259,1248) {Denitrification};
\node[lg] (lgDt) at (375,1248) {N\textsubscript{2} fixation};
\coordinate (lgE1) at (33,1271); \coordinate (lgE2) at (54,1271);
\coordinate (lgF1) at (105,1271); \coordinate (lgF2) at (126,1271);
\coordinate (lgG1) at (247,1271); \coordinate (lgG2) at (268,1271);
\coordinate (lgH1) at (388,1271); \coordinate (lgH2) at (408,1271);
\draw[dnra, line width=1.2, hd=9] (lgE1) -- (lgE2);
\draw[urea, line width=1.2, hd=9] (lgF1) -- (lgF2);
\draw[asm, line width=1.2, hd=9] (lgG1) -- (lgG2);
\draw[oth, line width=1.2, hd=9] (lgH1) -- (lgH2);
\node[lg] (lgEt) at (56,1271) {DNRA};
\node[lg] (lgFt) at (128,1271) {Urea degradation};
\node[lg] (lgGt2) at (270,1271) {\ammo{} assimilation};
\node[lg] (lgHt) at (410,1271) {Others};

% abundance
\node[draw=black, line width=1, minimum width=219pt, minimum height=84pt, inner sep=0pt] (abBox) at (582.5,1235) {};
\node[font=\fontAb\fsz{14}, inner sep=0pt] (abT) at (582,1206) {Abundance};
\node[font=\fontAb\fsz{14}, inner sep=0pt] (ab1) at (488,1228) {1};
\node[font=\fontAb\fsz{14}, inner sep=0pt] (ab2) at (538,1228) {10};
\node[font=\fontAb\fsz{14}, inner sep=0pt] (ab3) at (598,1228) {100};
\node[font=\fontAb\fsz{14}, inner sep=0pt] (ab4) at (663,1228) {1000};
\fill[black!90] (488,1256) circle[radius=5.3];
\fill[black!90] (538,1256) circle[radius=10.5];
\fill[black!90] (598,1256) circle[radius=15.5];
\fill[black!90] (663,1256) circle[radius=20.5];
\end{tikzpicture}
\end{document}
